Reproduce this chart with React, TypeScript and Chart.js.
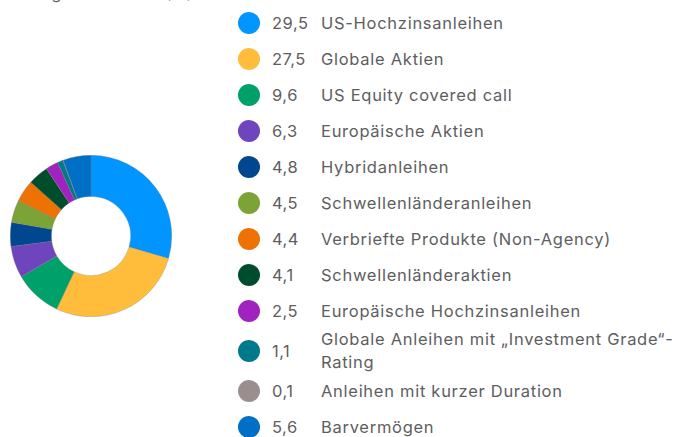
import React, { useEffect, useRef } from "react";
import { Chart, registerables } from "chart.js";

Chart.register(...registerables);

const titleText = "Vermögensallokation (%)";

const categories = [
  "US-Hochzinsanleihen",
  "Globale Aktien",
  "US Equity covered call",
  "Europäische Aktien",
  "Hybridanleihen",
  "Schwellenländeranleihen",
  "Verbriefte Produkte (Non-Agency)",
  "Schwellenländeraktien",
  "Europäische Hochzinsanleihen",
  "Globale Anleihen mit „Investment Grade“-Rating",
  "Anleihen mit kurzer Duration",
  "Barvermögen",
];

const values = [29.5, 27.5, 9.6, 6.3, 4.8, 4.5, 4.4, 4.1, 2.5, 1.1, 0.1, 5.6];

const valueLabels = ["29,5", "27,5", "9,6", "6,3", "4,8", "4,5", "4,4", "4,1", "2,5", "1,1", "0,1", "5,6"];

const colors = [
  "#0095ff",
  "#ffbd3b",
  "#00a06b",
  "#6f45bd",
  "#00478f",
  "#7ba336",
  "#ee7203",
  "#004d2e",
  "#a023c0",
  "#00798a",
  "#9a8f8e",
  "#0070c6",
];

const FONT = "Inter, 'Open Sans', sans-serif";

export default function App() {
  const canvasRef = useRef<HTMLCanvasElement | null>(null);

  useEffect(() => {
    if (!canvasRef.current) return;
    const chart = new Chart(canvasRef.current, {
      type: "doughnut",
      data: {
        labels: categories,
        datasets: [
          {
            data: values,
            backgroundColor: colors,
            borderColor: "rgba(120,120,120,0.6)",
            borderWidth: 0.5,
          },
        ],
      },
      options: {
        responsive: false,
        animation: false,
        cutout: "49%",
        layout: { padding: 0 },
        plugins: {
          legend: { display: false },
          tooltip: { enabled: false },
          title: { display: false },
        },
      },
    });
    return () => chart.destroy();
  }, []);

  return (
    <div
      style={{
        position: "absolute",
        left: 0,
        top: 0,
        width: 679,
        height: 437,
        overflow: "hidden",
        background: "#ffffff",
        fontFamily: FONT,
        color: "#5e5e5e",
      }}
    >
      <div
        style={{
          position: "absolute",
          left: 2,
          top: -17,
          fontSize: 16,
          lineHeight: "20px",
          whiteSpace: "nowrap",
          color: "#5e5e5e",
        }}
      >
        {titleText}
      </div>
      <canvas
        ref={canvasRef}
        width={162}
        height={162}
        style={{ position: "absolute", left: 10, top: 155, width: 162, height: 162 }}
      />
      <div style={{ position: "absolute", left: 238, top: 5, width: 440 }}>
        {categories.map((c, i) => {
          const twoLine = c.length > 40;
          return (
            <div
              key={c}
              style={{
                display: "flex",
                alignItems: "center",
                height: twoLine ? 44 : 36,
              }}
            >
              <div
                style={{
                  width: 22,
                  height: 22,
                  borderRadius: "50%",
                  background: colors[i],
                  flexShrink: 0,
                }}
              />
              <div
                style={{
                  width: 49,
                  marginLeft: 12,
                  fontSize: 16.5,
                  letterSpacing: "0.5px",
                  whiteSpace: "nowrap",
                }}
              >
                {valueLabels[i]}
              </div>
              <div
                style={{
                  width: 356,
                  fontSize: 16.5,
                  lineHeight: "23px",
                  letterSpacing: "0.72px",
                }}
              >
                {c}
              </div>
            </div>
          );
        })}
      </div>
    </div>
  );
}
